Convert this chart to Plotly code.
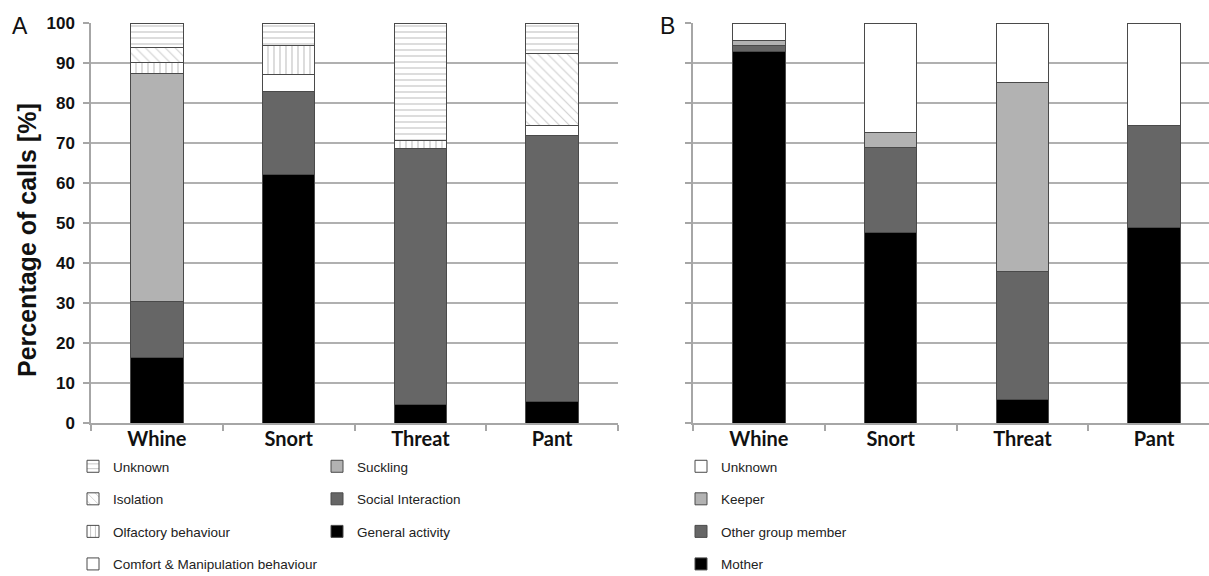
import plotly.graph_objects as go

# Call types (x categories)
categories = ["Whine", "Snort", "Threat", "Pant"]

# Panel A: behavioural context, % of calls (stacked bottom to top)
general_activity = [16.4, 62.2, 4.7, 5.3]
social_interaction = [14.0, 20.8, 64.0, 66.7]
suckling = [57.0, 0, 0, 0]
comfort_manipulation = [0, 4.2, 0, 2.4]
olfactory = [2.8, 7.1, 2.0, 0]
isolation = [3.7, 0, 0, 17.9]
unknown_a = [6.1, 5.7, 29.3, 7.7]

# Panel B: interaction partner, % of calls (stacked bottom to top)
mother = [92.8, 47.6, 6.0, 48.9]
other_group_member = [1.7, 21.2, 32.0, 25.5]
keeper = [1.2, 3.8, 47.2, 0]
unknown_b = [4.3, 27.4, 14.8, 25.6]

y_ticks = list(range(0, 101, 10))

W, H = 1209, 576
TOP, BOTTOM = 23, 423          # plot area, pixels from top
PLOT_H = BOTTOM - TOP
EDGE = "#4a4a4a"
ARIAL = "Liberation Sans, Arial, sans-serif"
LEG_FONT = dict(family=ARIAL, size=13.5, color="#222222")


def px_x(px):
    return px / W


def px_y(py):
    return (BOTTOM - py) / PLOT_H


fig = go.Figure()


def add_bar(name, values, color, xaxis, yaxis, legend, rank, pattern=None):
    marker = dict(color=color, line=dict(color=EDGE, width=1))
    if pattern:
        marker["pattern"] = pattern
    fig.add_trace(go.Bar(
        x=categories, y=values, name=name, marker=marker,
        width=0.4, xaxis=xaxis, yaxis=yaxis, legend=legend,
        legendrank=rank, legendgroup=f"{legend}-{name}", hoverinfo="skip",
    ))


# Panel A stack
add_bar("General activity", general_activity, "#000000", "x", "y", "legend2", 3)
add_bar("Social Interaction", social_interaction, "#666666", "x", "y", "legend2", 2)
add_bar("Suckling", suckling, "#b2b2b2", "x", "y", "legend2", 1)
add_bar("Comfort & Manipulation behaviour", comfort_manipulation, "#ffffff", "x", "y", "legend", 4)
add_bar("Olfactory behaviour", olfactory, "#ffffff", "x", "y", "legend", 3,
        dict(shape="|", fgcolor="#8c8c8c", bgcolor="#ffffff", size=6, solidity=0.2, fillmode="overlay"))
add_bar("Isolation", isolation, "#ffffff", "x", "y", "legend", 2,
        dict(shape="\\", fgcolor="#9a9a9a", bgcolor="#ffffff", size=7, solidity=0.15, fillmode="overlay"))
add_bar("Unknown", unknown_a, "#ffffff", "x", "y", "legend", 1,
        dict(shape="-", fgcolor="#8c8c8c", bgcolor="#ffffff", size=6, solidity=0.2, fillmode="overlay"))

# Panel B stack
add_bar("Mother", mother, "#000000", "x2", "y2", "legend3", 4)
add_bar("Other group member", other_group_member, "#666666", "x2", "y2", "legend3", 3)
add_bar("Keeper", keeper, "#b2b2b2", "x2", "y2", "legend3", 2)
add_bar("Unknown", unknown_b, "#ffffff", "x2", "y2", "legend3", 1)

AX_GRAY = "#a6a6a6"
xcat_font = dict(family="Lato, Calibri, sans-serif", size=20, color="#111111", weight="bold")
ytick_font = dict(family=ARIAL, size=17, color="#111111", weight="bold")

common_x = dict(
    type="category", categoryorder="array", categoryarray=categories,
    showgrid=False, showline=True, linecolor=AX_GRAY, linewidth=1.5,
    ticks="outside", tickson="boundaries", ticklen=6, tickcolor=AX_GRAY, tickwidth=1.5,
    tickfont=xcat_font, ticklabelstandoff=-3, fixedrange=True,
)
common_y = dict(
    range=[0, 100], tickvals=y_ticks, showgrid=True, gridcolor="#b0b0b0", gridwidth=1.5,
    showline=True, linecolor=AX_GRAY, linewidth=1.5, ticks="outside", ticklen=6,
    tickcolor=AX_GRAY, tickwidth=1.5, zeroline=False, fixedrange=True,
)

# plot areas in pixels
ax_a = (91, 618)
ax_b = (693, 1209)
cat_px = (ax_a[1] - ax_a[0]) / 4.0

legend_common = dict(xanchor="left", yanchor="top", orientation="v",
                     traceorder="grouped", tracegroupgap=12, font=LEG_FONT,
                     bgcolor="rgba(0,0,0,0)", y=px_y(451))

fig.update_layout(
    width=W, height=H,
    margin=dict(l=0, r=0, t=TOP, b=H - BOTTOM, autoexpand=False),
    paper_bgcolor="white", plot_bgcolor="white",
    barmode="stack", bargap=0.6,
    xaxis=dict(common_x, domain=[px_x(ax_a[0]), px_x(ax_a[1])], range=[-0.5, 3.5], anchor="y"),
    yaxis=dict(common_y, domain=[0, 1], anchor="x", tickfont=ytick_font, ticklabelstandoff=5),
    xaxis2=dict(common_x, domain=[px_x(ax_b[0]), 1],
                range=[-0.5, -0.5 + (ax_b[1] - ax_b[0]) / cat_px], anchor="y2"),
    yaxis2=dict(common_y, domain=[0, 1], anchor="x2", showticklabels=False),
    legend=dict(legend_common, x=px_x(73)),
    legend2=dict(legend_common, x=px_x(317)),
    legend3=dict(legend_common, x=px_x(681)),
    annotations=[
        dict(text="Percentage of calls [%]", x=px_x(27), y=px_y(240), xref="paper", yref="paper",
             xanchor="center", yanchor="middle", textangle=-90, showarrow=False,
             font=dict(family=ARIAL, size=25, color="#111111", weight="bold")),
        dict(text="A", x=px_x(10), y=px_y(26), xref="paper", yref="paper",
             xanchor="left", yanchor="middle", showarrow=False,
             font=dict(family=ARIAL, size=23, color="#111111")),
        dict(text="B", x=px_x(658), y=px_y(26), xref="paper", yref="paper",
             xanchor="left", yanchor="middle", showarrow=False,
             font=dict(family=ARIAL, size=23, color="#111111")),
    ],
)

fig.write_html("out.html")
